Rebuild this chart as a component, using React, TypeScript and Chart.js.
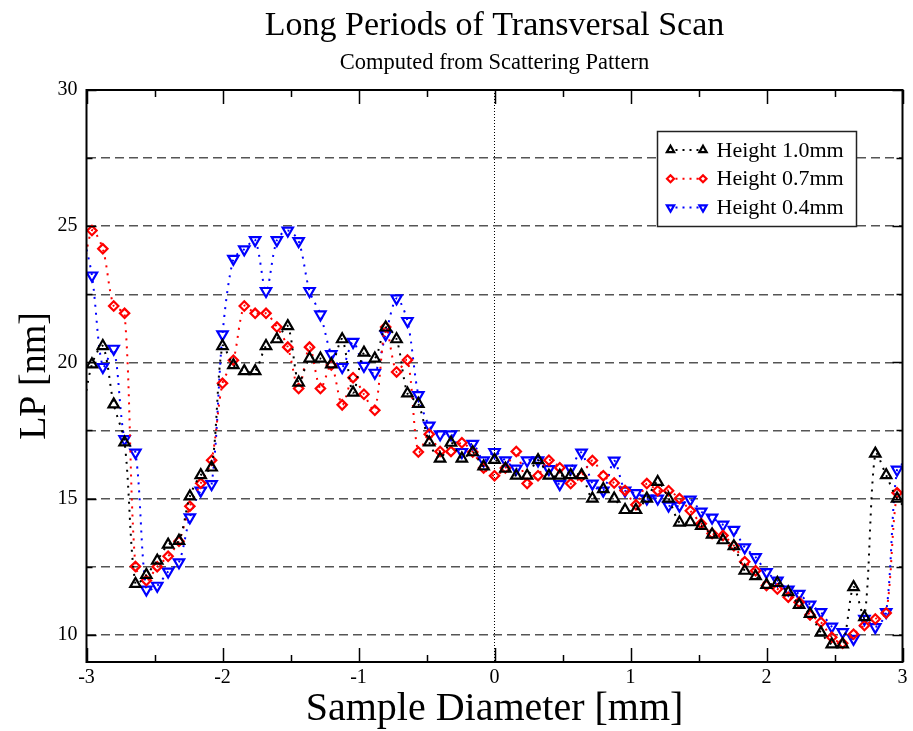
import React, { useEffect, useRef } from 'react';
import { Chart, registerables } from 'chart.js';

Chart.register(...registerables);

const SERIF = '"Liberation Serif", "Times New Roman", serif';

const chartTitle = 'Long Periods of Transversal Scan';
const chartSubtitle = 'Computed from Scattering Pattern';
const xAxisTitle = 'Sample Diameter [mm]';
const yAxisTitle = 'LP [nm]';

const seriesLabels = ['Height 1.0mm', 'Height 0.7mm', 'Height 0.4mm'];
const seriesColors = ['#000000', '#ff0000', '#0000ff'];

const xValues = [
  -3.04, -2.96, -2.88, -2.8, -2.72, -2.64, -2.56, -2.48, -2.4, -2.32,
  -2.24, -2.16, -2.08, -2.0, -1.92, -1.84, -1.76, -1.68, -1.6, -1.52,
  -1.44, -1.36, -1.28, -1.2, -1.12, -1.04, -0.96, -0.88, -0.8, -0.72,
  -0.64, -0.56, -0.48, -0.4, -0.32, -0.24, -0.16, -0.08, 0.0, 0.08,
  0.16, 0.24, 0.32, 0.4, 0.48, 0.56, 0.64, 0.72, 0.8, 0.88,
  0.96, 1.04, 1.12, 1.2, 1.28, 1.36, 1.44, 1.52, 1.6, 1.68,
  1.76, 1.84, 1.92, 2.0, 2.08, 2.16, 2.24, 2.32, 2.4, 2.48,
  2.56, 2.64, 2.72, 2.8, 2.88, 2.96, 3.04,
];

const height10 = [
  17.8, 19.93, 20.6, 18.46, 17.06, 11.87, 12.2, 12.72, 13.31, 13.45,
  15.08, 15.86, 16.14, 20.6, 19.9, 19.68, 19.68, 20.6, 20.85, 21.33,
  19.26, 20.14, 20.14, 19.93, 20.85, 18.89, 20.36, 20.14, 21.28, 20.85,
  18.86, 18.48, 17.06, 16.47, 17.05, 16.47, 16.7, 16.18, 16.42, 16.1,
  15.84, 15.84, 16.41, 15.84, 15.84, 15.86, 15.86, 15.0, 15.35, 15.0,
  14.58, 14.58, 15.0, 15.61, 15.0, 14.12, 14.13, 14.0, 13.68, 13.47,
  13.25, 12.35, 12.15, 11.83, 11.9, 11.56, 11.1, 10.77, 10.08, 9.65,
  9.65, 11.75, 10.65, 16.65, 15.86, 15.0, 14.6,
];

const height07 = [
  22.8, 24.84, 24.17, 22.07, 21.8, 12.51, 11.99, 12.5, 12.88, 13.43,
  14.72, 15.56, 16.41, 19.23, 20.08, 22.07, 21.8, 21.8, 21.3, 20.56,
  19.04, 20.56, 19.04, 19.9, 18.44, 19.44, 18.83, 18.24, 21.3, 19.65,
  20.09, 16.71, 17.36, 16.73, 16.73, 17.05, 16.71, 16.12, 15.84, 16.12,
  16.73, 15.55, 15.84, 16.41, 16.13, 15.55, 15.82, 16.4, 15.84, 15.57,
  15.3, 14.77, 15.55, 15.29, 15.29, 15.0, 14.55, 14.08, 13.72, 13.64,
  13.27, 12.68, 12.35, 11.81, 11.68, 11.38, 11.19, 10.73, 10.46, 9.91,
  9.69, 10.02, 10.34, 10.58, 10.8, 15.21, 15.8,
];

const height04 = [
  25.0, 23.19, 19.83, 20.5, 17.18, 16.69, 11.66, 11.8, 12.32, 12.66,
  14.31, 15.29, 15.53, 21.03, 23.8, 24.15, 24.49, 22.62, 24.49, 24.84,
  24.45, 22.62, 21.76, 20.3, 19.83, 20.75, 19.87, 19.62, 21.03, 22.35,
  21.52, 18.8, 17.68, 17.36, 17.36, 16.71, 17.01, 16.4, 16.71, 16.4,
  16.1, 16.4, 16.4, 16.08, 15.53, 16.1, 16.69, 15.55, 15.29, 16.39,
  15.29, 15.2, 15.0, 15.0, 14.74, 14.74, 14.96, 14.52, 14.3, 14.04,
  13.85, 13.21, 12.85, 12.3, 11.99, 11.66, 11.5, 11.11, 10.83, 10.3,
  10.1, 9.85, 10.58, 10.28, 10.83, 16.06, 16.4,
];

const xRange = [-3, 3];
const yRange = [9, 30];
const xTickValues = [-3, -2, -1, 0, 1, 2, 3];
const xSmallTickValues = [-3, -2.5, -2, -1.5, -1, -0.5, 0, 0.5, 1, 1.5, 2, 2.5, 3];
const yTickValues = [10, 12.5, 15, 17.5, 20, 22.5, 25, 27.5, 30];
const yLabelValues = [10, 15, 20, 25, 30];

function drawShape(ctx: CanvasRenderingContext2D, shape: string, x: number, y: number, r: number) {
  ctx.beginPath();
  if (shape === 'diamond') {
    ctx.moveTo(x, y - r);
    ctx.lineTo(x + r, y);
    ctx.lineTo(x, y + r);
    ctx.lineTo(x - r, y);
  } else {
    const dir = shape === 'down' ? -1 : 1;
    const s = Math.sin(Math.PI / 3) * r;
    ctx.moveTo(x, y - dir * r);
    ctx.lineTo(x + s, y + dir * r / 2);
    ctx.lineTo(x - s, y + dir * r / 2);
  }
  ctx.closePath();
  ctx.stroke();
}

const decorPlugin = {
  id: 'decor',
  afterDraw(chart: any) {
    const { ctx, chartArea } = chart;
    const { left, right, top, bottom } = chartArea;
    const xs = chart.scales.x;
    const ys = chart.scales.y;
    ctx.save();
    // titles
    ctx.fillStyle = '#000';
    ctx.textAlign = 'center';
    ctx.textBaseline = 'alphabetic';
    const cx = (left + right) / 2;
    ctx.font = `34px ${SERIF}`;
    ctx.fillText(chartTitle, cx, top - 55);
    ctx.font = `22.5px ${SERIF}`;
    ctx.fillText(chartSubtitle, cx, top - 21);

    // inside tick marks
    ctx.strokeStyle = '#000';
    ctx.lineWidth = 1.5;
    ctx.setLineDash([]);
    for (const v of xSmallTickValues) {
      const px = Math.round(xs.getPixelForValue(v)) + 0.5;
      const len = Number.isInteger(v) ? 14 : 7;
      ctx.beginPath();
      ctx.moveTo(px, bottom);
      ctx.lineTo(px, bottom - len);
      ctx.moveTo(px, top);
      ctx.lineTo(px, top + len);
      ctx.stroke();
    }
    for (const v of yTickValues) {
      const py = Math.round(ys.getPixelForValue(v)) + 0.5;
      const len = yLabelValues.includes(v) ? 10 : 6;
      ctx.beginPath();
      ctx.moveTo(left, py);
      ctx.lineTo(left + len, py);
      ctx.moveTo(right, py);
      ctx.lineTo(right - len, py);
      ctx.stroke();
    }

    // frame
    ctx.lineWidth = 2;
    ctx.strokeRect(left, top, right - left, bottom - top);

    // legend
    const boxW = 199;
    const boxH = 95;
    const bx = right - 46 - boxW;
    const by = top + 41.5;
    ctx.fillStyle = '#fff';
    ctx.fillRect(bx, by, boxW, boxH);
    ctx.lineWidth = 1.5;
    ctx.strokeStyle = '#222';
    ctx.strokeRect(bx, by, boxW, boxH);
    const shapes = ['up', 'diamond', 'down'];
    chart.data.datasets.forEach((ds: any, k: number) => {
      const ry = by + 18.5 + k * 28.7;
      const m1 = bx + 13;
      const m2 = bx + 45.5;
      ctx.strokeStyle = ds.borderColor;
      ctx.fillStyle = ds.borderColor;
      ctx.lineWidth = 2;
      ctx.setLineDash([2, 5]);
      ctx.beginPath();
      ctx.moveTo(m1 + 5, ry);
      ctx.lineTo(m2 - 4, ry);
      ctx.stroke();
      ctx.setLineDash([]);
      ctx.lineWidth = 2.2;
      const r = shapes[k] === 'diamond' ? 3.5 : 4.2;
      drawShape(ctx, shapes[k], m1, ry, r);
      drawShape(ctx, shapes[k], m2, ry, r);
      ctx.fillStyle = '#000';
      ctx.textAlign = 'left';
      ctx.textBaseline = 'middle';
      ctx.font = `22px ${SERIF}`;
      ctx.fillText(ds.label, bx + 59, ry + 1);
    });
    ctx.restore();
  },
};

export default function App() {
  const canvasRef = useRef<HTMLCanvasElement | null>(null);

  useEffect(() => {
    const canvas = canvasRef.current;
    if (!canvas) return;
    const allSeries = [height10, height07, height04];
    const styles = [
      { pointStyle: 'triangle', rotation: 0, radius: 6 },
      { pointStyle: 'rectRot', rotation: 0, radius: 4.7 },
      { pointStyle: 'triangle', rotation: 180, radius: 6 },
    ];
    const inRange = (ctx: any) => {
      const raw = ctx.raw;
      return raw && raw.x >= xRange[0] && raw.x <= xRange[1];
    };
    const chart = new Chart(canvas, {
      type: 'line',
      data: {
        datasets: allSeries.map((ys, k) => ({
          label: seriesLabels[k],
          data: xValues.map((x, i) => ({ x, y: ys[i] })),
          borderColor: seriesColors[k],
          backgroundColor: 'rgba(0,0,0,0)',
          borderWidth: 2,
          borderDash: [2, 6],
          tension: 0.3,
          fill: false,
          pointStyle: styles[k].pointStyle as any,
          pointRotation: styles[k].rotation,
          pointRadius: (ctx: any) => (inRange(ctx) ? styles[k].radius : 0),
          pointBorderColor: seriesColors[k],
          pointBackgroundColor: 'rgba(0,0,0,0)',
          pointBorderWidth: 2.2,
        })),
      },
      options: {
        responsive: false,
        animation: false,
        events: [],
        layout: { padding: { top: 90, right: 10.5, bottom: 0, left: 0 } },
        plugins: {
          legend: { display: false },
          title: { display: false },
          tooltip: { enabled: false },
        },
        scales: {
          x: {
            type: 'linear',
            min: xRange[0],
            max: xRange[1],
            afterBuildTicks: (s: any) => {
              s.ticks = xTickValues.map((v) => ({ value: v }));
            },
            afterFit: (s: any) => {
              s.height = 69;
            },
            ticks: {
              callback: (v: any) => String(v),
              font: { family: SERIF, size: 20 },
              color: '#000',
              padding: 4,
              maxRotation: 0,
              autoSkip: false,
            },
            grid: {
              drawTicks: false,
              lineWidth: 1,
              color: (ctx: any) => (ctx.tick && ctx.tick.value === 0 ? '#000' : 'rgba(0,0,0,0)'),
            },
            border: { display: false, dash: [1, 2] },
            title: {
              display: true,
              text: xAxisTitle,
              color: '#000',
              font: { family: SERIF, size: 40, lineHeight: 1 },
              padding: { top: 0, bottom: 2 },
            },
          },
          y: {
            type: 'linear',
            min: yRange[0],
            max: yRange[1],
            afterBuildTicks: (s: any) => {
              s.ticks = yTickValues.map((v) => ({ value: v }));
            },
            afterFit: (s: any) => {
              s.width = 86.5;
            },
            ticks: {
              callback: (v: any) => (yLabelValues.includes(v) ? String(v) : ''),
              font: { family: SERIF, size: 20 },
              color: '#000',
              padding: 9,
              autoSkip: false,
            },
            grid: {
              drawTicks: false,
              lineWidth: 1.5,
              color: '#555',
            },
            border: { display: false, dash: [9, 5] },
            title: {
              display: true,
              text: yAxisTitle,
              color: '#000',
              font: { family: SERIF, size: 38, lineHeight: 1 },
              padding: { top: 16, bottom: 0 },
            },
          },
        },
      } as any,
      plugins: [decorPlugin],
    });
    return () => chart.destroy();
  }, []);

  return (
    <div style={{ position: 'absolute', left: 0, top: 0, width: 913, height: 731, background: '#fff' }}>
      <canvas ref={canvasRef} width={913} height={731} style={{ display: 'block' }} />
    </div>
  );
}
